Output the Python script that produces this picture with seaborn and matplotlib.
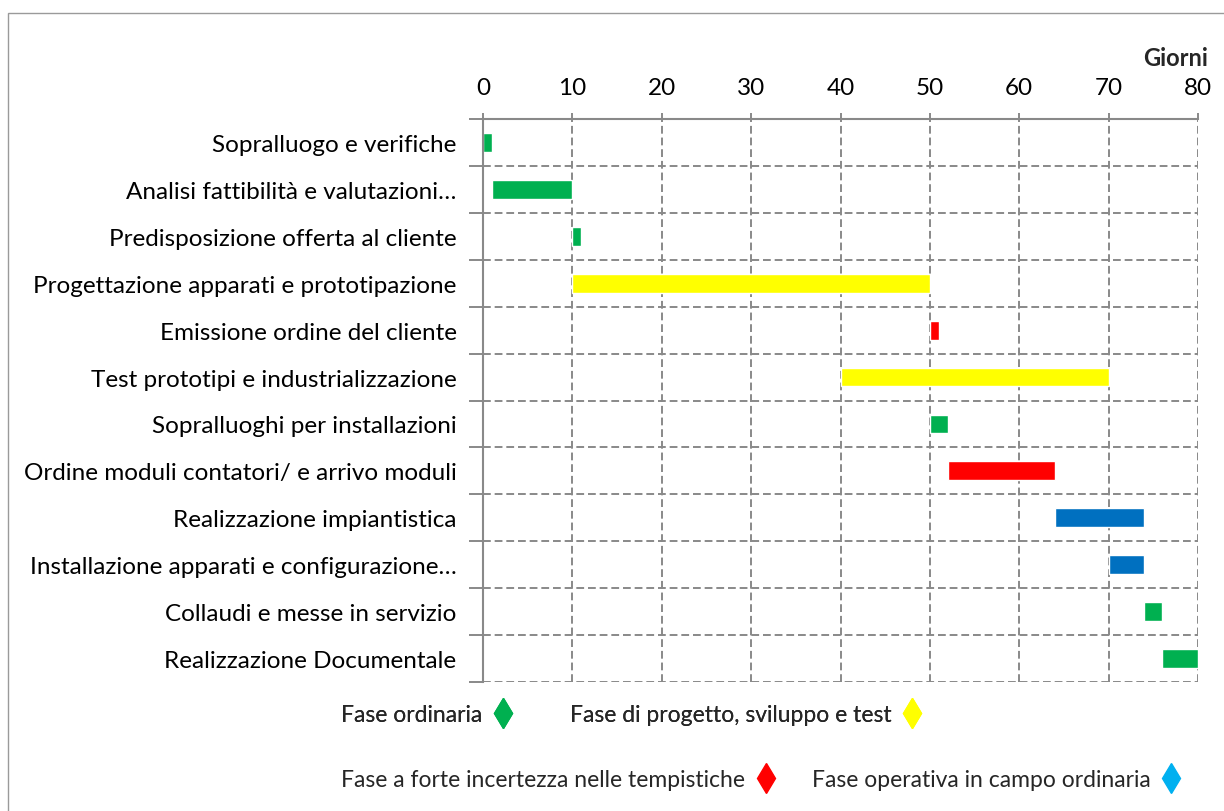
import seaborn as sns
import matplotlib.pyplot as plt
import pandas as pd
from matplotlib.lines import Line2D
from matplotlib.patches import Rectangle

attivita = [
    "Sopralluogo e verifiche",
    "Analisi fattibilità e valutazioni…",
    "Predisposizione offerta al cliente",
    "Progettazione apparati e prototipazione",
    "Emissione ordine del cliente",
    "Test prototipi e industrializzazione",
    "Sopralluoghi per installazioni",
    "Ordine moduli contatori/ e arrivo moduli",
    "Realizzazione impiantistica",
    "Installazione apparati e configurazione…",
    "Collaudi e messe in servizio",
    "Realizzazione Documentale",
]
inizio = [0, 1, 10, 10, 50, 40, 50, 52, 64, 70, 74, 76]
durata = [1, 9, 1, 40, 1, 30, 2, 12, 10, 4, 2, 4]
fase = ["ordinaria", "ordinaria", "ordinaria", "progetto", "incertezza", "progetto",
        "ordinaria", "incertezza", "campo", "campo", "ordinaria", "ordinaria"]

colori = {"ordinaria": "#00B050", "progetto": "#FFFF00",
          "incertezza": "#FF0000", "campo": "#0070C0"}

legenda_riga1 = [("Fase ordinaria", "#00B050"),
                 ("Fase di progetto, sviluppo e test", "#FFFF00")]
legenda_riga2 = [("Fase a forte incertezza nelle tempistiche", "#FF0000"),
                 ("Fase operativa in campo ordinaria", "#00B0F0")]

sns.set_theme(style="white")
plt.rcParams['font.family'] = ['Lato', 'DejaVu Sans']

df = pd.DataFrame({"Attivita": attivita, "Inizio": inizio,
                   "Durata": durata, "Fase": fase})

fig = plt.figure(figsize=(12.24, 8.12), dpi=100)
ax = fig.add_axes([483 / 1224, 1 - 683 / 812, 715 / 1224, 563 / 812])

ypos = range(len(df))
ax.barh(list(ypos), df["Durata"], left=df["Inizio"], height=0.4,
        color=[colori[f] for f in df["Fase"]], zorder=3)

ax.set_xlim(0, 80)
ax.set_ylim(len(df) - 0.5, -0.5)
ax.set_yticks(list(ypos))
ax.set_yticklabels(df["Attivita"], fontsize=17.5, color="black")
ax.set_yticks([i + 0.5 for i in range(-1, len(df))], minor=True)
ax.set_xticks(range(0, 81, 10))
ax.xaxis.tick_top()
ax.tick_params(axis='x', which='major', labelsize=17.5, labelcolor="black", length=4,
               color="#898989", width=1.4, pad=11, top=True, bottom=False)
ax.tick_params(axis='y', which='major', length=0, pad=19)
ax.tick_params(axis='y', which='minor', length=10, color="#898989", width=1.4, left=True)

ax.grid(True, axis='x', which='major', color="#898989", linestyle=(0, (4, 2)), linewidth=1.4, zorder=0)
ax.grid(True, axis='y', which='minor', color="#898989", linestyle=(0, (4, 2)), linewidth=1.4, zorder=0)
ax.grid(False, axis='y', which='major')

for s in ["bottom", "right"]:
    ax.spines[s].set_visible(False)
for s in ["top", "left"]:
    ax.spines[s].set_color("#898989")
    ax.spines[s].set_linewidth(1.5)
    ax.spines[s].set_zorder(4)

fig.text(1208 / 1224, 1 - 58 / 812, "Giorni", ha="right", va="center",
         fontsize=17, fontweight="bold")

# cornice esterna
fig.patches.append(Rectangle((8 / 1224, -0.1), 1.2, 1 - 14 / 812 + 0.1,
                             transform=fig.transFigure, fill=False,
                             edgecolor="#9a9a9a", linewidth=1))


def legenda(voci, y, spazio):
    handles = [Line2D([], [], linestyle="none", marker="d", markersize=15,
                      markerfacecolor=c, markeredgecolor=c) for _, c in voci]
    leg = fig.legend(handles, [t for t, _ in voci], loc="center left",
                     bbox_to_anchor=(332 / 1224, 1 - y / 812), ncol=2,
                     frameon=False, markerfirst=False, fontsize=16.5,
                     handlelength=1.0, handletextpad=0.4, columnspacing=spazio,
                     borderaxespad=0)
    return leg


leg1 = legenda(legenda_riga1, 716, 2.4)
fig.add_artist(leg1)
legenda(legenda_riga2, 781, 1.5)

fig.savefig("out.png", dpi=100)
